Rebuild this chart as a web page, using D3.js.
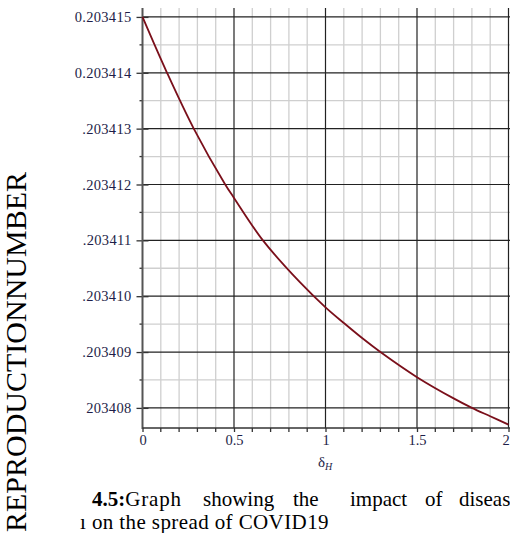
<!DOCTYPE html>
<html><head><meta charset="utf-8">
<script src="https://cdn.jsdelivr.net/npm/d3@7"></script>
<style>body{margin:0;background:#fff}svg{display:block}text{font-family:"Liberation Serif","Times New Roman",serif}</style>
</head><body><svg id="c" width="510" height="533"></svg>
<script>
// data
const deltaH = [0, 0.134, 0.28, 0.452, 0.5, 0.658, 0.86, 1.0, 1.1, 1.2, 1.3, 1.5, 1.7, 1.8, 1.9, 2.0];
const R0 = [0.2034150, 0.2034140, 0.2034130, 0.2034120, 0.20341176, 0.2034110, 0.20341025, 0.2034098,
            0.20340952, 0.20340925, 0.2034090, 0.20340855, 0.20340817, 0.2034080, 0.20340785, 0.2034077];
const yTickValues = [0.203415, 0.203414, 0.203413, 0.203412, 0.203411, 0.203410, 0.203409, 0.203408];
const yTickLabels = ["0.203415", "0.203414", ".203413", ".203412", ".203411", ".203410", ".203409", "203408"];
const yMinorValues = [0.2034145, 0.2034135, 0.2034125, 0.2034115, 0.2034105, 0.2034095, 0.2034085];
const xTickValues = [0, 0.5, 1, 1.5, 2];
const xTickLabels = ["0", "0.5", "1", "1.5", "2"];
const xMinorValues = [0.1,0.2,0.3,0.4,0.6,0.7,0.8,0.9,1.1,1.2,1.3,1.4,1.6,1.7,1.8,1.9];
const yTitle = "REPRODUCTIONNUMBER";
const captionLine1 = ["showing", "the", "impact", "of", "diseas"];
const captionLine2 = "ı on the spread of COVID19";

const svg = d3.select("#c");
const x = d3.scaleLinear().domain([0, 2]).range([142.5, 508.5]);
const y = d3.scaleLinear().domain([0.20340764, 0.20341516]).range([428, 8]);
const pTop = 8, pBottom = 428, pLeft = 142.5;

// grid minor
const g = svg.append("g");
g.selectAll(".vmin").data(xMinorValues).enter().append("line")
  .attr("x1", d => x(d)).attr("x2", d => x(d)).attr("y1", pTop).attr("y2", pBottom)
  .attr("stroke", "#cfcfcf").attr("stroke-width", 1.3);
g.selectAll(".hmin").data(yMinorValues).enter().append("line")
  .attr("x1", pLeft).attr("x2", 510).attr("y1", d => y(d)).attr("y2", d => y(d))
  .attr("stroke", "#cfcfcf").attr("stroke-width", 1.3);
// grid major
g.selectAll(".vmaj").data(xTickValues.slice(1)).enter().append("line")
  .attr("x1", d => x(d)).attr("x2", d => x(d)).attr("y1", pTop).attr("y2", pBottom)
  .attr("stroke", "#222").attr("stroke-width", 1.2);
g.selectAll(".hmaj").data(yTickValues).enter().append("line")
  .attr("x1", pLeft).attr("x2", 510).attr("y1", d => y(d)).attr("y2", d => y(d))
  .attr("stroke", "#222").attr("stroke-width", 1.2);

// axes
const yAxis = svg.append("g").attr("transform", `translate(${pLeft},0)`)
  .call(d3.axisLeft(y).tickValues(yTickValues).tickSize(6).tickPadding(5)
    .tickFormat((d, i) => yTickLabels[i]));
yAxis.select(".domain").remove();
yAxis.selectAll(".tick line").attr("x2", -6).attr("x1", 6).attr("stroke", "#333").attr("stroke-width", 1.3);
yAxis.selectAll("text").attr("font-size", 14.5).attr("letter-spacing", "0.3px").attr("fill", "#1e1e48")
  .attr("font-family", "Liberation Serif");
svg.append("g").selectAll("line").data(yMinorValues).enter().append("line")
  .attr("x1", pLeft - 3).attr("x2", pLeft).attr("y1", d => y(d)).attr("y2", d => y(d))
  .attr("stroke", "#333").attr("stroke-width", 1.3);

const xAxis = svg.append("g").attr("transform", `translate(0,${pBottom})`)
  .call(d3.axisBottom(x).tickValues(xTickValues).tickSize(4).tickPadding(3)
    .tickFormat((d, i) => xTickLabels[i]));
xAxis.select(".domain").remove();
xAxis.selectAll(".tick line").attr("stroke", "#333").attr("stroke-width", 1.3);
xAxis.selectAll("text").attr("font-size", 14.5).attr("fill", "#1e1e48").attr("font-family", "Liberation Serif")
  .attr("dx", (d, i) => i === xTickValues.length - 1 ? -3 : 0);
svg.append("g").selectAll("line").data(xMinorValues).enter().append("line")
  .attr("x1", d => x(d)).attr("x2", d => x(d)).attr("y1", pBottom).attr("y2", pBottom + 4)
  .attr("stroke", "#333").attr("stroke-width", 1.3);

// axis lines
svg.append("line").attr("x1", pLeft).attr("x2", pLeft).attr("y1", pTop).attr("y2", pBottom + 1)
  .attr("stroke", "#555").attr("stroke-width", 2);
svg.append("line").attr("x1", pLeft).attr("x2", 510).attr("y1", pBottom).attr("y2", pBottom)
  .attr("stroke", "#333").attr("stroke-width", 1.5);

// curve
const line = d3.line().x((d, i) => x(deltaH[i])).y(d => y(d)).curve(d3.curveCatmullRom);
svg.append("path").attr("d", line(R0)).attr("fill", "none")
  .attr("stroke", "#7a0f1a").attr("stroke-width", 1.8);

// x title
const xt = svg.append("text").attr("x", 318).attr("y", 467).attr("font-size", 15).attr("fill", "#1e1e48");
xt.append("tspan").text("δ");
xt.append("tspan").attr("font-size", 10).attr("font-style", "italic").attr("dy", 3).text("H");

// y title
svg.append("text").attr("transform", "translate(26,352) rotate(-90)").attr("text-anchor", "middle")
  .attr("font-size", 30).attr("fill", "#000").text(yTitle);

// caption
const capSize = 21;
const c1 = svg.append("text").attr("x", 92).attr("y", 506).attr("font-size", capSize);
c1.append("tspan").attr("font-weight", "bold").text("4.5:");
c1.append("tspan").attr("letter-spacing", "0.8px").text("Graph");
const wordX = [203, 293, 350, 425, 459];
captionLine1.forEach((w, i) => {
  svg.append("text").attr("x", wordX[i]).attr("y", 506).attr("font-size", capSize).text(w);
});
svg.append("text").attr("x", 80).attr("y", 529).attr("font-size", capSize)
  .attr("letter-spacing", "0.4px").text(captionLine2);
</script></body></html>
